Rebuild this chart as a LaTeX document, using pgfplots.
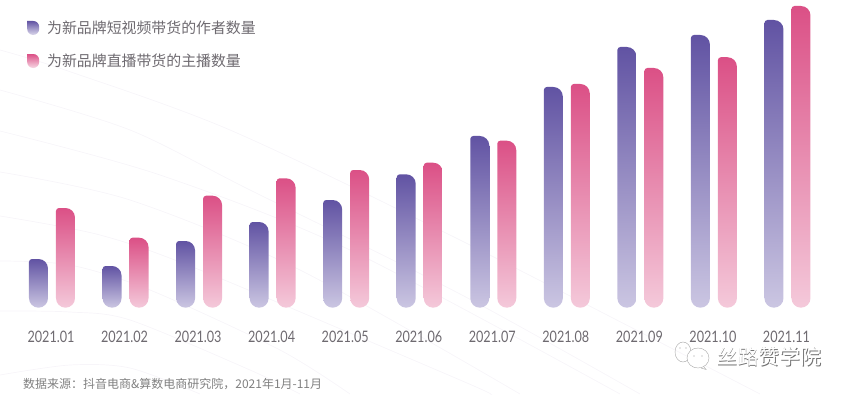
\documentclass[border=0pt]{standalone}
\usepackage{pgfplots}
\pgfplotsset{compat=1.18}
\usepackage{fontspec}
\setmainfont{Noto Sans CJK SC}
\newfontfamily\latin[FakeStretch=0.8]{Lato}
\definecolor{ptop}{HTML}{6153A3}
\definecolor{pbot}{HTML}{CBC6E2}
\definecolor{rtop}{HTML}{DB5086}
\definecolor{rbot}{HTML}{F4C9DA}
\definecolor{txt}{HTML}{6E6A70}
\definecolor{arc}{HTML}{F7F5F9}
% one bar: x, height, shift, top colour, bottom colour.
% The bar is a pgfplots bar; its visible, asymmetric rounded shape is the mark at the data point.
\newcommand\onebar[5]{%
  \pgfmathsetmacro\lft{#3-9.5}\pgfmathsetmacro\rgt{#3+9.5}%
  \pgfmathsetmacro\rgi{#3}\pgfmathsetmacro\low{9.5-#2}%
  \edef\tmpname{c#4#1}%
  \edef\tmpdecl{\noexpand\pgfdeclareplotmark{\tmpname}{%
    \noexpand\shade[sharp corners, draw=none, top color=#4, bottom color=#5]
      (\lft pt,\low pt) -- (\lft pt,-3pt) arc[start angle=180,end angle=90,radius=3pt]
      -- (\rgi pt,0pt) arc[start angle=90,end angle=0,radius=9.5pt]
      -- (\rgt pt,\low pt) arc[start angle=0,end angle=-180,radius=9.5pt] -- cycle;}}%
  \tmpdecl
  \edef\tmpplot{\noexpand\addplot[forget plot, bar shift=#3pt, draw=none, fill=none, mark=\tmpname] coordinates {(#1,#2)};}%
  \tmpplot
}
\begin{document}
\begin{tikzpicture}[x=1pt,y=1pt]
\useasboundingbox (0,0) rectangle (848,394);
% faint background arcs
\begin{scope}[arc, line width=0.7pt]
\clip (0,0) rectangle (848,394);
\draw plot[smooth] coordinates {(0,304) (130,264) (250,204) (460,100) (640,0)};
\draw plot[smooth] coordinates {(0,344) (65,324) (230,264) (460,154) (760,0)};
\draw plot[smooth] coordinates {(0,263) (160,219) (350,144) (620,0)};
\draw plot[smooth] coordinates {(0,222) (130,194) (300,124) (520,0)};
\draw plot[smooth] coordinates {(0,178) (100,159) (200,124) (460,14) (490,0)};
\draw plot[smooth] coordinates {(0,133) (70,129) (150,104) (280,44) (350,0)};
\draw plot[smooth] coordinates {(0,83) (70,82) (130,74) (250,24) (300,0)};
\draw plot[smooth] coordinates {(0,19) (70,29) (130,26) (200,0)};
\end{scope}
\begin{axis}[
  at={(0pt,86.3pt)}, anchor=south west,
  scale only axis, width=848pt, height=307.7pt,
  xmin=-0.707, xmax=10.823, ymin=0, ymax=307.7,
  clip=false,
  axis line style={draw=none},
  major tick length=0pt,
  ytick=\empty,
  xtick={0,...,10},
  xticklabels={2021.01,2021.02,2021.03,2021.04,2021.05,2021.06,2021.07,2021.08,2021.09,2021.10,2021.11},
  x tick label style={font=\latin\fontsize{15.8}{18}\selectfont, text=txt, yshift=-20pt, xshift=-1pt},
  ybar, bar width=19pt,
  legend style={at={(axis cs:-0.34,289)}, anchor=north west, draw=none, fill=none,
    font=\fontsize{14.9}{18}\selectfont, text=txt, row sep=15pt, inner sep=0pt, legend cell align=left,
    /tikz/column 1/.style={column sep=6pt}},
]
\onebar{0}{48.7}{-13.5}{ptop}{pbot}
\onebar{1}{41.7}{-13.5}{ptop}{pbot}
\onebar{2}{66.7}{-13.5}{ptop}{pbot}
\onebar{3}{85.7}{-13.5}{ptop}{pbot}
\onebar{4}{107.7}{-13.5}{ptop}{pbot}
\onebar{5}{133.4}{-13.5}{ptop}{pbot}
\onebar{6}{171.7}{-13.5}{ptop}{pbot}
\onebar{7}{220.7}{-13.5}{ptop}{pbot}
\onebar{8}{260.7}{-13.5}{ptop}{pbot}
\onebar{9}{272.7}{-13.5}{ptop}{pbot}
\onebar{10}{287.7}{-13.5}{ptop}{pbot}
\onebar{0}{99.7}{13.5}{rtop}{rbot}
\onebar{1}{70.0}{13.5}{rtop}{rbot}
\onebar{2}{112.0}{13.5}{rtop}{rbot}
\onebar{3}{129.4}{13.5}{rtop}{rbot}
\onebar{4}{137.7}{13.5}{rtop}{rbot}
\onebar{5}{145.0}{13.5}{rtop}{rbot}
\onebar{6}{167.0}{13.5}{rtop}{rbot}
\onebar{7}{223.7}{13.5}{rtop}{rbot}
\onebar{8}{239.7}{13.5}{rtop}{rbot}
\onebar{9}{250.5}{13.5}{rtop}{rbot}
\onebar{10}{301.7}{13.5}{rtop}{rbot}
\addlegendimage{legend image code/.code={\shade[draw=none,sharp corners,top color=ptop,bottom color=pbot!70!white] (0pt,7pt) -- (6pt,7pt) arc[start angle=90,end angle=0,radius=6pt] -- (12pt,-1pt) arc[start angle=0,end angle=-180,radius=6pt] -- cycle;}}
\addlegendentry{为新品牌短视频带货的作者数量}
\addlegendimage{legend image code/.code={\shade[draw=none,sharp corners,top color=rtop,bottom color=rbot!70!white] (0pt,7pt) -- (6pt,7pt) arc[start angle=90,end angle=0,radius=6pt] -- (12pt,-1pt) arc[start angle=0,end angle=-180,radius=6pt] -- cycle;}}
\addlegendentry{为新品牌直播带货的主播数量}
\end{axis}
\node[anchor=west, inner sep=0pt, text=black!50, font=\fontsize{12}{14}\selectfont] at (23,10) {数据来源\symbol{"FF1A}抖音电商\&算数电商研究院\symbol{"FF0C}2021年1月-11月};
% watermark
\node[anchor=west, inner sep=0pt, text=black!55, font=\fontsize{20.8}{24}\selectfont] at (717.6,36.4) {丝路赞学院};
\node[anchor=west, inner sep=0pt, text=white, font=\fontsize{20.8}{24}\selectfont] at (717,37) {丝路赞学院};
\begin{scope}[draw=black!35, line width=0.4pt, fill=white]
\draw (683,42) ellipse (8 and 10);
\filldraw (698,36) ellipse (11 and 10);
\draw (704,27) -- (706,24.5) -- (701,26);
\fill[black!40] (694,38) circle (0.7) (702,38) circle (0.7) (680,46) circle (0.6) (686,46) circle (0.6);
\end{scope}
\end{tikzpicture}
\end{document}
